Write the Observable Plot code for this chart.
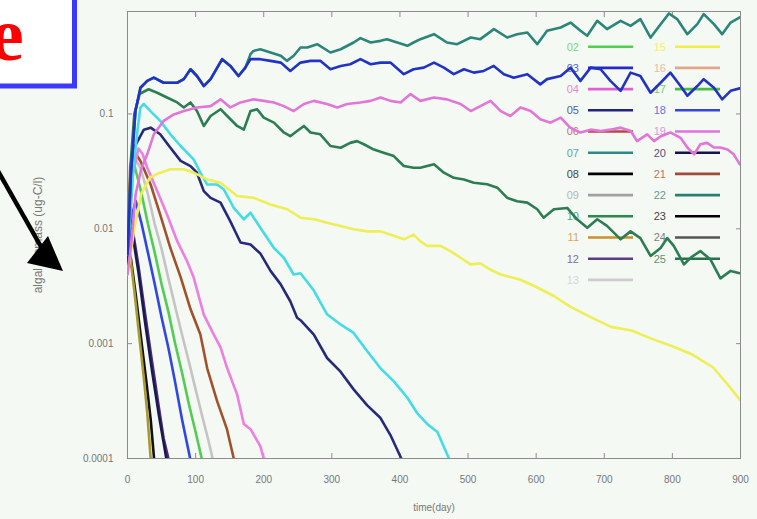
<!DOCTYPE html>
<html><head><meta charset="utf-8">
<script src="https://cdn.jsdelivr.net/npm/d3@7"></script>
<script src="https://cdn.jsdelivr.net/npm/@observablehq/plot@0.6"></script>
<style>
html,body{margin:0;padding:0;background:#f5f9f4;}
#wrap{position:relative;width:757px;height:519px;overflow:hidden;}
#wrap > svg{position:absolute;left:0;top:0;}
</style>
</head><body>
<div id="wrap"></div>
<script>
// ---- axis ticks ----
const xTicks = [0, 100, 200, 300, 400, 500, 600, 700, 800, 900];
const yTicks = [0.0001, 0.001, 0.01, 0.1];
const yTickLabels = ["0.0001", "0.001", "0.01", "0.1"];
const xLabel = "time(day)";
const yLabel = "algal biomass (ug-C/l)";

// ---- series: [day, biomass] ----
const s08 = [[0,0.0078],[5,0.0055],[12,0.0027],[20,0.0011],[28,0.00045],[34,0.00022],[39,0.0001]];
const s11 = [[0,0.006],[4,0.0058],[10,0.0029],[17,0.0012],[24,0.0005],[29,0.00025],[34,0.0001]];
const s12 = [[0,0.006],[3,0.0105],[8,0.0095],[16,0.0048],[26,0.0018],[36,0.0007],[46,0.00028],[53,0.00015],[60,0.0001]];
const s20 = [[0,0.005],[3,0.0095],[8,0.0085],[16,0.0042],[26,0.0015],[36,0.00058],[46,0.00024],[57,0.0001]];
const s18 = [[0,0.005],[5,0.012],[12,0.0175],[20,0.0115],[30,0.0062],[40,0.0033],[50,0.0017],[60,0.00092],[70,0.00046],[80,0.00022],[92,0.0001]];
const s02 = [[0,0.006],[4,0.025],[9,0.038],[20,0.021],[30,0.011],[40,0.0062],[50,0.0033],[60,0.0019],[70,0.001],[80,0.00056],[90,0.0003],[100,0.00017],[109,0.0001]];
const s13 = [[0,0.006],[5,0.03],[12,0.04],[19,0.034],[30,0.02],[40,0.011],[50,0.0067],[60,0.0037],[70,0.0021],[80,0.0012],[90,0.0007],[100,0.0004],[110,0.00023],[118,0.00015],[125,0.0001]];
const s21 = [[0,0.006],[4,0.035],[9,0.048],[19,0.039],[34,0.0243],[48,0.0133],[63,0.0068],[78,0.0038],[92.5,0.002],[107,0.0012],[117,0.00061],[131.7,0.000314],[146,0.00018],[156,0.0001]];
const s19 = [[0,0.006],[8,0.03],[16,0.05],[22,0.045],[29,0.034],[43.6,0.0213],[58,0.0133],[73,0.0078],[87.6,0.0052],[97,0.0038],[112,0.00179],[126.7,0.0012],[136.6,0.00093],[146.4,0.00061],[161,0.00036],[170.8,0.0002],[180.6,0.00018],[195,0.000128],[200,0.0001]];
const s05 = [[0,0.005],[5,0.02],[9,0.05],[24,0.073],[34,0.076],[48,0.0665],[63,0.0508],[78,0.039],[92.5,0.0352],[102,0.0308],[112,0.0213],[122,0.0186],[136.6,0.0169],[151,0.0116],[166,0.0076],[180.6,0.0073],[195,0.0061],[210,0.0043],[224.7,0.0033],[239,0.00234],[249,0.00168],[254,0.0016],[273.6,0.0012],[293,0.00075],[312.8,0.00057],[332,0.0004],[352,0.00029],[371.5,0.000225],[386,0.00016],[402,0.0001]];
const s07 = [[0,0.006],[8,0.03],[14,0.067],[19,0.114],[24,0.122],[33.7,0.106],[48,0.087],[63,0.0665],[78,0.0526],[87.6,0.046],[97,0.0403],[107,0.0308],[117,0.0243],[131.7,0.0243],[141.4,0.022],[156,0.0152],[170.8,0.0121],[180.6,0.0138],[195,0.0102],[215,0.0068],[229.5,0.0056],[244,0.004],[254,0.0041],[273.6,0.0029],[293,0.0018],[312.8,0.00147],[332,0.00124],[352,0.00086],[371.5,0.00061],[391,0.00047],[410.7,0.00034],[425,0.00025],[440,0.0002],[455,0.00017],[472,0.0001]];
const s15 = [[0,0.004],[10,0.01],[20,0.02],[33,0.028],[48,0.0308],[63,0.033],[82.7,0.033],[97,0.0308],[117,0.0269],[136.6,0.0252],[161,0.0193],[185.5,0.0186],[210,0.0163],[234.5,0.0148],[254,0.0125],[273.6,0.0121],[293,0.0113],[312.8,0.0106],[332,0.0099],[352,0.0095],[371.5,0.0095],[391,0.0087],[405.7,0.0081],[420,0.0089],[430,0.0078],[440,0.0071],[459.6,0.0071],[474,0.0064],[489,0.0056],[503.7,0.0049],[518,0.005],[533,0.0044],[548,0.004],[577,0.0036],[601,0.0031],[626,0.0026],[650,0.0021],[680,0.0017],[710,0.0014],[740,0.0013],[770,0.0011],[800,0.00095],[830,0.0008],[860,0.00062],[880,0.00045],[900,0.00032]];
const s25 = [[0,0.006],[5,0.04],[10,0.1],[18,0.15],[31,0.164],[43.6,0.153],[58,0.139],[73,0.126],[82.7,0.114],[92.5,0.126],[102,0.106],[112,0.0786],[122,0.096],[136.6,0.11],[146.4,0.096],[161,0.0786],[170.8,0.073],[180.6,0.106],[190.4,0.11],[200,0.093],[215,0.084],[229.5,0.069],[239,0.064],[249,0.071],[259,0.0786],[268.7,0.069],[283,0.0665],[298,0.0526],[313,0.0508],[327,0.056],[337,0.058],[347,0.0545],[361.7,0.049],[376,0.046],[391,0.043],[405.7,0.0352],[420,0.034],[430,0.034],[450,0.0364],[464.5,0.0308],[479,0.0278],[494,0.0269],[508.5,0.0252],[528,0.0244],[543,0.0228],[557.5,0.0186],[572,0.0174],[587,0.0169],[601.6,0.0148],[611,0.0125],[626,0.0148],[645.6,0.0152],[660,0.0121],[675,0.0102],[689.7,0.0121],[704,0.0106],[724,0.0081],[738.6,0.0095],[753,0.0083],[768,0.0058],[782.7,0.0068],[792.5,0.0083],[802,0.0071],[817,0.0049],[826.7,0.0056],[841,0.0064],[856,0.0054],[870.5,0.0037],[885.5,0.0043],[899,0.0041]];
const s04 = [[0,0.004],[6,0.008],[12,0.02],[20,0.033],[29,0.0445],[38.6,0.0665],[53,0.087],[68,0.099],[82.7,0.106],[92.5,0.11],[102,0.114],[122,0.117],[136.6,0.134],[151,0.114],[166,0.126],[185,0.134],[200,0.13],[215,0.126],[229.5,0.117],[244,0.106],[259,0.122],[273.6,0.13],[293,0.122],[308,0.114],[322.6,0.122],[342,0.126],[357,0.13],[371.5,0.139],[386,0.13],[401,0.126],[415.6,0.149],[430,0.13],[450,0.139],[469,0.134],[489,0.122],[504,0.106],[518,0.117],[533,0.13],[548,0.106],[562,0.096],[577,0.114],[592,0.106],[606,0.09],[621,0.084],[636,0.093],[650,0.076],[665,0.069],[680,0.073],[695,0.071],[709,0.073],[724,0.076],[739,0.071],[748,0.058],[763,0.0665],[773,0.058],[783,0.064],[797,0.069],[812,0.062],[822,0.051],[832,0.0445],[841,0.0545],[851,0.056],[861,0.051],[870,0.051],[881,0.049],[890,0.0445],[899,0.0364]];
const s22 = [[0,0.006],[5,0.03],[11.7,0.106],[19,0.169],[29,0.194],[38.7,0.207],[53,0.187],[73,0.187],[82.7,0.201],[92.5,0.245],[102,0.214],[112,0.175],[122,0.201],[139,0.3],[151,0.262],[163,0.214],[173,0.253],[180.6,0.332],[185,0.354],[195,0.366],[210,0.343],[225,0.321],[234,0.29],[244,0.321],[254,0.379],[264,0.379],[278.5,0.405],[298,0.343],[313,0.366],[332,0.419],[342,0.457],[357,0.419],[371.5,0.433],[381,0.448],[396,0.419],[411,0.392],[420,0.419],[430,0.448],[450,0.495],[469,0.419],[484,0.405],[504,0.463],[518,0.448],[538,0.548],[557.5,0.463],[572,0.495],[587,0.512],[601.6,0.405],[616,0.53],[636,0.566],[650.5,0.625],[665,0.53],[675,0.479],[689.7,0.647],[704,0.548],[724,0.647],[738.6,0.585],[753,0.67],[768,0.463],[782.7,0.605],[795,0.75],[807,0.67],[822,0.495],[836.6,0.605],[846,0.74],[861,0.605],[873,0.495],[885.5,0.625],[899,0.692]];
const s03 = [[0,0.006],[5,0.03],[11.7,0.106],[19,0.169],[29,0.194],[38.7,0.207],[53,0.187],[73,0.187],[82.7,0.201],[92.5,0.245],[102,0.214],[112,0.175],[122,0.201],[139,0.3],[151,0.262],[163,0.214],[173,0.253],[180.6,0.3],[195,0.3],[210,0.29],[225,0.28],[239,0.237],[254,0.28],[268.7,0.29],[283,0.29],[298,0.245],[313,0.262],[327,0.271],[342,0.3],[357,0.271],[371.5,0.28],[386,0.28],[405.7,0.222],[420,0.245],[435,0.253],[450,0.28],[464.5,0.253],[479,0.222],[494,0.245],[508.5,0.229],[523,0.237],[537.7,0.262],[552.6,0.222],[567,0.207],[587,0.222],[606,0.181],[616,0.201],[636,0.214],[650.5,0.253],[665,0.194],[680,0.253],[694.6,0.245],[709,0.194],[724,0.159],[738.6,0.229],[753,0.214],[768,0.153],[782.7,0.187],[797,0.229],[812,0.175],[822,0.144],[836.6,0.175],[846,0.201],[861,0.169],[873,0.134],[885.5,0.159],[899,0.167]];

const series = [
  {data: s08, color: "#111111"},
  {data: s11, color: "#a89a30"},
  {data: s12, color: "#4a2a80"},
  {data: s20, color: "#1a1a4e"},
  {data: s18, color: "#3048e0"},
  {data: s02, color: "#52cc52"},
  {data: s13, color: "#c4c4c4"},
  {data: s21, color: "#a0522d"},
  {data: s19, color: "#ee7ee2"},
  {data: s05, color: "#262a78"},
  {data: s07, color: "#44dce4"},
  {data: s15, color: "#eeee55"},
  {data: s25, color: "#2d7d52"},
  {data: s04, color: "#e276d8"},
  {data: s22, color: "#2b8578"},
  {data: s03, color: "#2233c4"}
];

// ---- legend entries ----
const legendCol1 = ["02","03","04","05","06","07","08","09","10","11","12","13"];
const legendCol1Colors = ["#50d050","#2828c8","#e060d0","#242480","#b04a40","#2a8a8a","#000000","#a0a0a0","#2a8a4a","#c8902a","#5a3c80","#cccccc"];
const legendCol2 = ["15","16","17","18","19","20","21","22","23","24","25"];
const legendCol2Colors = ["#eeee44","#e0a888","#44c044","#3444e0","#e070e0","#14144a","#a04a38","#2a8070","#000000","#555555","#2a7050"];

const wrap = document.getElementById("wrap");

// legend (under the plot lines)
const leg = d3.select(wrap).append("svg").attr("width", 757).attr("height", 519);
function legendCol(names, colors, labelEnd, x1, x2) {
  names.forEach((n, i) => {
    const y = 46.7 + 21.2 * i;
    leg.append("text").attr("x", labelEnd).attr("y", y).attr("dy", "0.35em")
      .attr("text-anchor", "end").attr("font-family", "Liberation Sans, Arial, sans-serif")
      .attr("font-size", 11).attr("fill", colors[i]).attr("opacity", 0.75).text(n);
    leg.append("line").attr("x1", x1).attr("x2", x2).attr("y1", y).attr("y2", y)
      .attr("stroke", colors[i]).attr("stroke-width", 2.6);
  });
}
legendCol(legendCol1, legendCol1Colors, 579, 588, 633);
legendCol(legendCol2, legendCol2Colors, 666, 675, 720);

const fmtY = d => yTickLabels[yTicks.indexOf(d)] ?? "";

const chart = Plot.plot({
  width: 757, height: 519,
  marginLeft: 127, marginRight: 17, marginTop: 11, marginBottom: 61,
  style: {background: "transparent", fontFamily: "Liberation Sans, Arial, sans-serif", fontSize: "10px", color: "#777"},
  x: {domain: [0, 900]},
  y: {type: "log", domain: [0.0001, 0.78]},
  marks: [
    Plot.frame({stroke: "#8c8c8c"}),
    Plot.axisX({ticks: xTicks, anchor: "bottom", tickSize: 0, tickPadding: 17, label: xLabel, labelAnchor: "center", labelArrow: "none", labelOffset: 52}),
    Plot.axisX({ticks: xTicks, anchor: "bottom", tickSize: -5, tickFormat: () => "", label: null, stroke: "#8c8c8c"}),
    Plot.axisX({ticks: xTicks, anchor: "top", tickSize: -5, tickFormat: () => "", label: null, stroke: "#8c8c8c"}),
    Plot.axisY({ticks: yTicks, anchor: "left", tickSize: 0, tickPadding: 14, tickFormat: fmtY, label: null}),
    Plot.axisY({ticks: yTicks, anchor: "left", tickSize: -5, tickFormat: () => "", label: null, stroke: "#8c8c8c"}),
    Plot.axisY({ticks: yTicks, anchor: "right", tickSize: -5, tickFormat: () => "", label: null, stroke: "#8c8c8c"}),
    Plot.axisY({ticks: [], anchor: "left", label: yLabel, labelAnchor: "center", labelArrow: "none", labelOffset: 94, fontSize: 12}),
    ...series.map(s => Plot.line(s.data, {x: d => d[0], y: d => d[1], stroke: s.color, strokeWidth: 2.6, clip: true}))
  ]
});
wrap.appendChild(chart);

// slide decorations: title box fragment and arrow
const deco = d3.select(wrap).append("svg").attr("width", 757).attr("height", 519);
deco.append("rect").attr("x", -20).attr("y", -20).attr("width", 94.5).attr("height", 106)
  .attr("fill", "#ffffff").attr("stroke", "#3a3aff").attr("stroke-width", 5);
deco.append("text").attr("x", -10).attr("y", 60).attr("font-family", "Liberation Serif, Times New Roman, serif")
  .attr("font-weight", "bold").attr("font-size", 76).attr("fill", "#ff0000").text("e");
deco.append("line").attr("x1", -2).attr("y1", 171).attr("x2", 44).attr("y2", 252)
  .attr("stroke", "#000").attr("stroke-width", 4.5);
deco.append("path").attr("d", "M63,271 L27,263 L48,236 Z").attr("fill", "#000");
</script>
</body></html>
